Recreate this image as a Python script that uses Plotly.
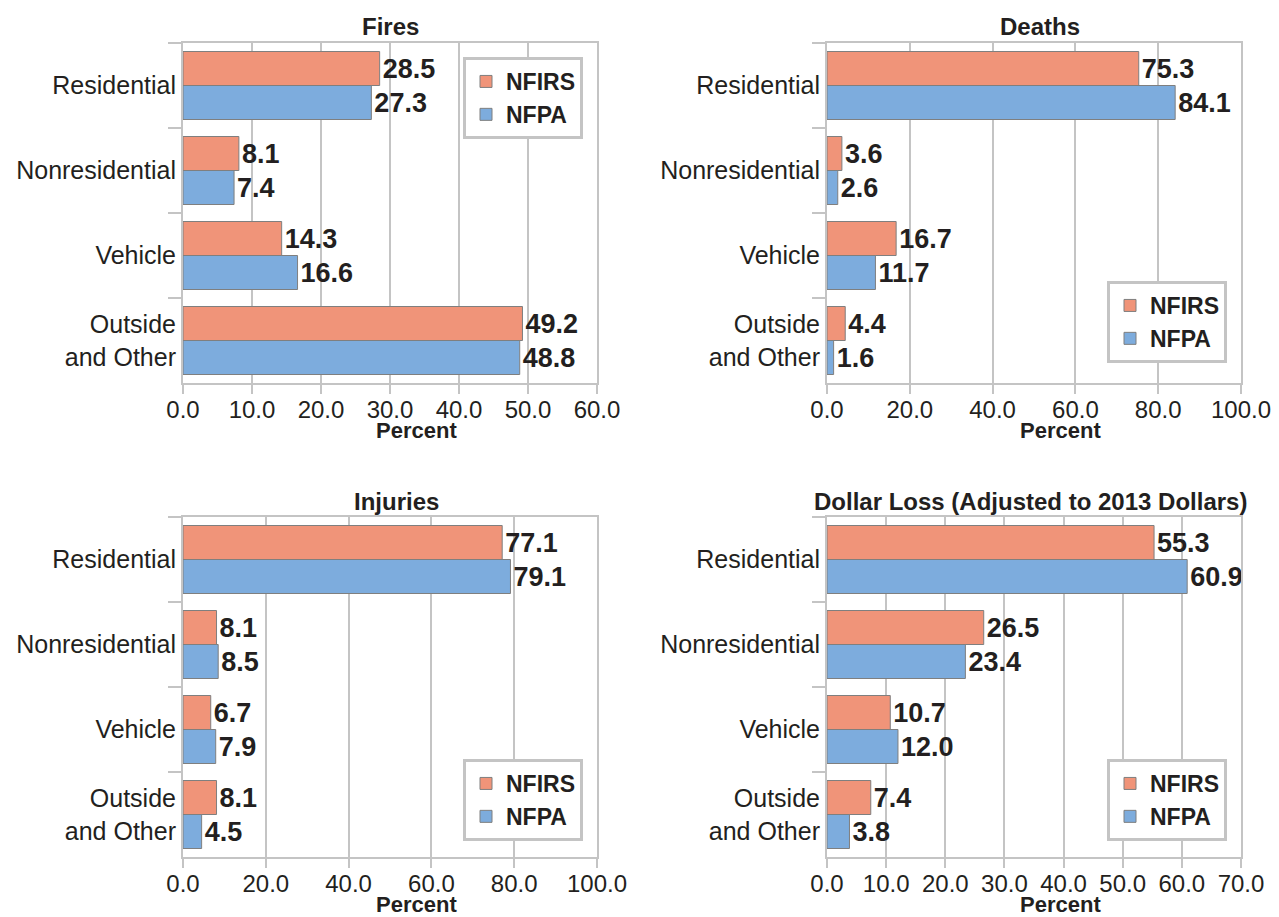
import plotly.graph_objects as go

categories = ["Residential", "Nonresidential", "Vehicle", "Outside<br>and Other"]
series_names = ["NFIRS", "NFPA"]

fires_nfirs = [28.5, 8.1, 14.3, 49.2]
fires_nfpa = [27.3, 7.4, 16.6, 48.8]
deaths_nfirs = [75.3, 3.6, 16.7, 4.4]
deaths_nfpa = [84.1, 2.6, 11.7, 1.6]
injuries_nfirs = [77.1, 8.1, 6.7, 8.1]
injuries_nfpa = [79.1, 8.5, 7.9, 4.5]
loss_nfirs = [55.3, 26.5, 10.7, 7.4]
loss_nfpa = [60.9, 23.4, 12.0, 3.8]

titles = ["Fires", "Deaths", "Injuries", "Dollar Loss (Adjusted to 2013 Dollars)"]
x_ranges = [[0, 60], [0, 100], [0, 100], [0, 70]]
x_dticks = [10, 20, 20, 10]

# the page body has an 8px margin, so the figure is drawn from (8, 8)
OFF = 8
W, H = 1279 - OFF, 917 - OFF
colors = {"NFIRS": "#F09479", "NFPA": "#7DACDD"}
GRID = "#c4c4c4"
INK = "#231f20"
FONT = "Liberation Sans, Arial, sans-serif"


def fx(px):
    return (px - OFF) / W


def fy(py):
    return 1 - (py - OFF) / H


# plot areas in window pixels: (left, right, top, bottom)
boxes = [(183, 597, 43, 383), (827, 1241, 43, 383),
         (183, 597, 517, 857), (827, 1241, 517, 857)]
panels = [(fires_nfirs, fires_nfpa), (deaths_nfirs, deaths_nfpa),
          (injuries_nfirs, injuries_nfpa), (loss_nfirs, loss_nfpa)]
legend_pos = [(583, 57, "top"), (1227, 363, "bottom"),
              (583, 841, "bottom"), (1227, 841, "bottom")]
title_x = [390, 1040, 397, 1030]

fig = go.Figure()
layout = {}
annotations = []

for i, (box, data) in enumerate(zip(boxes, panels)):
    n = "" if i == 0 else str(i + 1)
    lg = "legend" + n
    for name, vals in zip(series_names, data):
        fig.add_trace(go.Bar(
            x=vals, y=categories, orientation="h", name=name,
            marker=dict(color=colors[name], line=dict(color="#7f7f7f", width=1)),
            texttemplate="%{x:.1f}", textposition="outside", constraintext="none",
            cliponaxis=False,
            textfont=dict(family=FONT, size=27, color=INK, weight="bold"),
            xaxis="x" + n, yaxis="y" + n, legend=lg,
        ))
    l, r, t, b = box
    layout["xaxis" + n] = dict(
        domain=[fx(l), fx(r)], anchor="y" + n, range=x_ranges[i], dtick=x_dticks[i],
        tickformat=".1f", showgrid=True, gridcolor=GRID, gridwidth=2,
        showline=True, linecolor=GRID, linewidth=2, mirror=True,
        ticks="outside", ticklen=9, tickcolor=GRID, tickwidth=2,
        ticklabelstandoff=-5,
        tickfont=dict(family=FONT, size=24, color=INK), zeroline=False,
        automargin=False,
    )
    layout["yaxis" + n] = dict(
        domain=[fy(b), fy(t)], anchor="x" + n,
        categoryorder="array", categoryarray=categories, autorange="reversed",
        tickson="boundaries", ticks="outside", ticklen=13, tickcolor=GRID, tickwidth=2,
        showgrid=False, showline=True, linecolor=GRID, linewidth=2, mirror=True,
        tickfont=dict(family=FONT, size=25, color=INK), automargin=False,
    )
    lx, ly, anchor = legend_pos[i]
    layout[lg] = dict(
        x=fx(lx), y=fy(ly), xanchor="right", yanchor=anchor,
        bgcolor="white", bordercolor=GRID, borderwidth=3,
        font=dict(family=FONT, size=23, color=INK, weight="bold"),
        tracegroupgap=0, itemclick=False,
    )
    cx = (l + r) / 2
    annotations.append(dict(
        text="<b>" + titles[i] + "</b>", x=fx(title_x[i]), y=fy(t - 16),
        xref="paper", yref="paper", showarrow=False,
        xanchor="center", yanchor="middle",
        font=dict(family=FONT, size=24, color=INK),
    ))
    annotations.append(dict(
        text="<b>Percent</b>", x=fx(cx + 26), y=fy(b + 47),
        xref="paper", yref="paper", showarrow=False,
        xanchor="center", yanchor="middle",
        font=dict(family=FONT, size=22, color=INK),
    ))

fig.update_layout(
    width=W, height=H, margin=dict(l=0, r=0, t=0, b=0),
    barmode="group", bargap=0.2, bargroupgap=0,
    plot_bgcolor="white", paper_bgcolor="white",
    annotations=annotations, **layout,
)

fig.write_html("out.html")
